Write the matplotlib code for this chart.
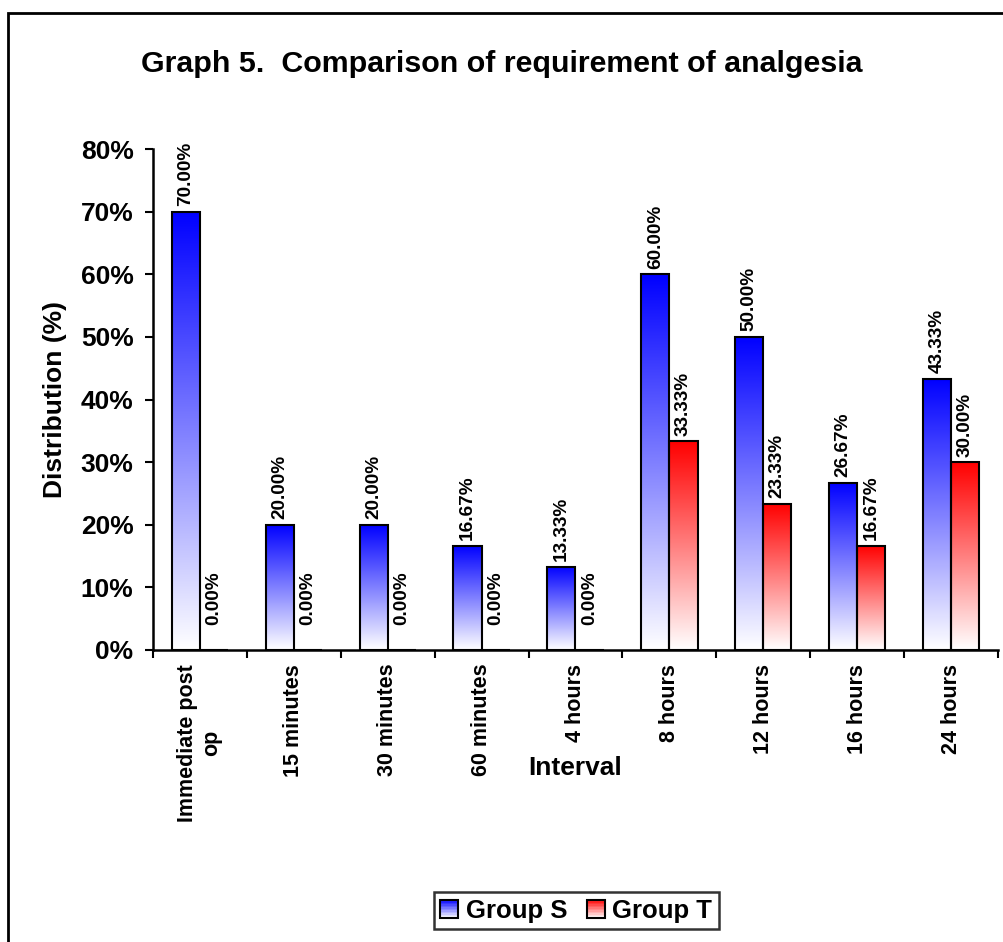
import numpy as np
import matplotlib
matplotlib.use("Agg")
from matplotlib import pyplot as plt
from matplotlib.patches import Rectangle
from matplotlib.colors import LinearSegmentedColormap
from matplotlib.legend_handler import HandlerBase

plt.rcParams['font.family'] = ['Liberation Sans', 'DejaVu Sans']
plt.rcParams['font.weight'] = 'bold'

intervals = ["Immediate post\nop", "15 minutes", "30 minutes", "60 minutes", "4 hours",
             "8 hours", "12 hours", "16 hours", "24 hours"]
group_s = [70.00, 20.00, 20.00, 16.67, 13.33, 60.00, 50.00, 26.67, 43.33]
group_t = [0.00, 0.00, 0.00, 0.00, 0.00, 33.33, 23.33, 16.67, 30.00]
series_names = ["Group S", "Group T"]

blue_map = LinearSegmentedColormap.from_list("blue_fade", ["white", "#0000ff"])
red_map = LinearSegmentedColormap.from_list("red_fade", ["white", "#ff0000"])


class GradientHandler(HandlerBase):
    def __init__(self, cmap):
        super().__init__()
        self.cmap = cmap

    def create_artists(self, legend, orig_handle, xdescent, ydescent, width, height, fontsize, trans):
        side = height * 1.0
        x0 = -xdescent + (width - side) / 2
        y0 = -ydescent
        n = 12
        arts = []
        for i in range(n):
            c = self.cmap((i + 0.5) / n)
            arts.append(Rectangle((x0, y0 + side * i / n), side, side / n, facecolor=c,
                                  edgecolor='none', transform=trans))
        arts.append(Rectangle((x0, y0), side, side, facecolor='none', edgecolor='black',
                              linewidth=1.5, transform=trans))
        return arts


fig = plt.figure(figsize=(10.04, 9.42), dpi=100)
ax = fig.add_axes([0.1524, 0.31, 0.8416, 0.5318])

x = np.arange(len(intervals))
w = 0.3
grad = np.linspace(0, 1, 256).reshape(-1, 1)

for vals, offs, cmap in [(group_s, -w / 2, blue_map), (group_t, w / 2, red_map)]:
    bars = ax.bar(x + offs, np.array(vals) / 100, width=w, facecolor='none',
                  edgecolor='black', linewidth=1.5, zorder=3)
    for b, v in zip(bars, vals):
        x0 = b.get_x()
        h = b.get_height()
        if h > 0:
            ax.imshow(grad, extent=[x0, x0 + w, 0, h], origin='lower', aspect='auto',
                      cmap=cmap, vmin=0, vmax=1, zorder=2)
        ax.annotate(f"{v:.2f}%", (x0 + w / 2, h), xytext=(0, 18 if v == 0 else 4),
                    textcoords='offset points', rotation=90, ha='center', va='bottom',
                    fontsize=13.7, fontweight='bold')

ax.set_xlim(-0.5, len(intervals) - 0.5)
ax.set_ylim(0, 0.8)
ax.set_yticks(np.arange(0, 0.81, 0.1))
ax.set_yticklabels([f"{int(round(t * 100))}%" for t in np.arange(0, 0.81, 0.1)], fontsize=19)
ax.set_xticks(np.arange(len(intervals) + 1) - 0.5)
ax.set_xticklabels([])
ax.set_xticks(x, minor=True)
ax.set_xticklabels(intervals, minor=True, rotation=90, fontsize=15.5, va='top', ha='center',
                   multialignment='center')
ax.tick_params(axis='x', which='minor', length=0, pad=10)
ax.tick_params(axis='both', which='major', length=6, width=1.5, direction='out')
ax.tick_params(axis='y', pad=8)
for s in ['top', 'right']:
    ax.spines[s].set_visible(False)
for s in ['left', 'bottom']:
    ax.spines[s].set_linewidth(1.8)

fig.text(0.5, 0.932, "Graph 5.  Comparison of requirement of analgesia", ha='center',
         va='center', fontsize=21.9, fontweight='bold')
fig.text(0.055, 0.576, "Distribution (%)", rotation=90, ha='center', va='center',
         fontsize=19, fontweight='bold')
fig.text(0.573, 0.185, "Interval", ha='center', va='center', fontsize=19, fontweight='bold')

handles = [Rectangle((0, 0), 1, 1), Rectangle((0, 1), 1, 1)]
leg = fig.legend(handles, series_names, loc='center', bbox_to_anchor=(0.574, 0.033),
                 ncol=2, fontsize=18.5, frameon=True, fancybox=False, handlelength=0.7,
                 handletextpad=0.3, columnspacing=0.75, borderpad=0.25,
                 handler_map={handles[0]: GradientHandler(blue_map),
                              handles[1]: GradientHandler(red_map)})
leg.get_frame().set_edgecolor('black')
leg.get_frame().set_linewidth(1.8)

fig.patches.append(Rectangle((8 / 1004, -0.1), 1.2, 1.1 - 13 / 942, transform=fig.transFigure,
                             facecolor='none', edgecolor='black', linewidth=2))

fig.savefig("out.png", dpi=100)
